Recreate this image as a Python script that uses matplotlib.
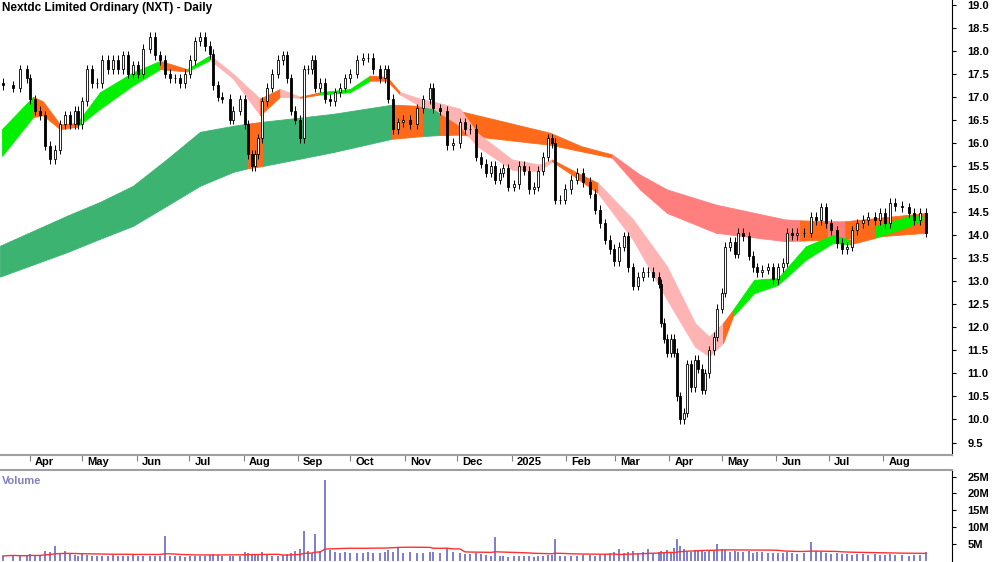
import numpy as np
import pandas as pd
import matplotlib
matplotlib.use("Agg")
import matplotlib.pyplot as plt
import matplotlib.dates as mdates

plt.rcParams['font.family'] = ['Liberation Sans', 'DejaVu Sans']

# sample positions (px from left), converted to dates below
pos = [3,13,20,27,30,35,40,45,50,55,
       60,65,70,75,78,82,87,92,97,102,
       108,113,118,123,128,133,138,143,150,155,
       160,165,170,175,180,185,190,195,200,205,
       210,213,218,222,230,233,240,245,248,252,
       255,258,262,267,272,278,283,287,291,295,
       300,304,308,312,315,320,325,330,335,340,
       345,350,357,363,368,373,380,385,388,393,
       398,403,410,417,423,430,433,440,447,453,
       460,465,470,476,481,486,491,495,500,503,
       508,514,519,524,529,534,538,543,548,552,
       555,560,565,571,577,583,590,595,600,605,
       610,614,619,624,628,633,638,643,648,653,
       659,661,664,667,671,674,677,680,684,687,
       691,695,698,702,705,709,714,717,722,725,
       730,735,738,743,749,753,757,762,768,773,
       778,783,787,792,797,804,811,816,821,826,
       831,837,842,847,852,857,863,868,875,880,
       885,890,895,902,909,914,920,926]
close = [17.25,17.2,17.6,17.4,16.95,16.7,16.6,15.94,15.65,15.85,
         16.4,16.6,16.4,16.7,16.4,16.9,17.6,17.3,17.3,17.8,
         17.6,17.8,17.6,17.9,17.5,17.68,17.5,18.04,18.3,17.9,
         17.8,17.5,17.4,17.4,17.3,17.5,17.8,18.2,18.3,18.1,
         17.93,17.25,17.0,16.96,16.5,16.7,16.95,16.4,15.75,15.5,
         15.75,16.1,16.9,17.2,17.5,17.8,17.9,17.4,16.7,16.5,
         16.1,17.6,17.6,17.8,17.2,17.3,16.96,16.9,17.1,17.2,
         17.4,17.5,17.8,17.85,17.85,17.6,17.4,17.6,16.96,16.3,
         16.45,16.5,16.4,16.75,16.95,17.2,16.75,16.7,15.95,16.0,
         16.45,16.3,16.3,15.7,15.55,15.35,15.5,15.2,15.35,15.45,
         15.05,15.1,15.5,15.4,15.0,15.05,15.4,15.7,16.1,16.0,
         14.77,14.77,15.0,15.2,15.35,15.15,14.9,14.55,14.26,13.9,
         13.7,13.43,13.75,13.97,13.3,12.9,13.1,13.2,13.2,13.1,
         12.95,12.1,11.75,11.45,11.75,11.45,10.5,10.0,10.15,11.2,
         10.7,11.3,11.1,10.65,11.0,11.5,11.8,12.4,12.75,13.75,
         13.85,13.6,14.05,13.97,13.55,13.3,13.2,13.25,13.3,13.05,
         13.3,13.4,14.05,14.0,14.05,14.05,14.4,14.33,14.6,14.26,
         14.1,13.83,13.7,13.75,14.1,14.26,14.33,14.4,14.33,14.48,
         14.26,14.7,14.63,14.6,14.48,14.33,14.48,14.05]
volume = [1.5,1.8,1.4,1.6,2.0,1.5,1.7,3.0,2.6,4.5,
          2.5,3.0,2.2,1.8,1.6,2.0,1.7,1.5,1.6,1.4,
          1.5,1.7,1.6,1.4,1.5,1.8,1.6,1.5,1.4,1.6,
          1.5,7.5,1.6,1.4,1.5,1.3,1.6,1.5,1.4,1.6,
          1.8,2.0,1.7,1.5,1.6,1.4,1.5,2.8,2.4,2.0,
          1.8,2.2,2.6,1.7,1.6,1.5,1.8,2.0,2.4,3.0,
          3.5,9.0,3.0,2.5,8.0,3.0,24.0,3.2,2.8,2.5,
          2.6,2.4,2.5,2.3,2.7,2.5,2.4,2.6,3.2,2.8,
          4.0,2.5,2.6,2.3,2.5,2.8,2.6,2.4,3.8,2.7,
          2.5,2.2,2.0,2.4,2.0,1.8,1.6,7.0,1.5,1.4,
          1.3,1.4,1.6,1.5,1.4,1.3,1.6,1.5,1.7,1.8,
          6.5,1.6,1.5,1.4,1.6,1.8,1.7,1.5,1.8,2.0,
          2.4,2.8,3.5,2.5,2.6,3.0,2.4,2.8,3.6,2.5,
          2.6,3.0,2.8,3.2,2.7,3.8,6.5,4.5,3.5,3.0,
          2.8,3.2,2.9,3.0,2.7,3.1,3.0,5.0,3.5,3.2,
          2.8,3.0,2.7,2.6,2.9,2.5,2.8,2.6,2.4,2.3,
          2.5,2.4,2.6,2.3,2.2,2.5,5.5,3.0,2.6,2.4,
          2.2,2.3,2.0,2.1,1.9,2.2,2.0,1.8,2.1,1.9,
          1.8,2.0,1.7,1.9,1.6,1.8,1.7,2.8]

# short-term MMA ribbon: position, top, bottom, colour of following segment
s_pos = [2,33,43,60,77,100,133,160,187,210,233,260,280,300,320,350,370,387,400,420,
         433,460,477,512,539,552,574,598,633,667,695,709,723,733,754,778,806,833,850,875,909,923]
s_top = [16.3,17.0,16.9,16.4,16.43,17.1,17.53,17.78,17.6,17.9,17.5,16.96,17.17,17.0,17.1,17.17,17.46,17.43,17.1,16.96,
         16.9,16.74,16.22,15.64,15.53,15.64,15.39,15.13,14.34,13.32,12.09,11.8,12.09,12.38,13.03,13.07,13.76,14.0,13.9,14.19,14.41,14.41]
s_bot = [15.72,16.56,16.6,16.3,16.35,16.74,17.25,17.6,17.55,17.8,17.4,16.6,17.0,16.98,17.05,17.1,17.35,17.35,17.05,16.8,
         16.75,16.37,15.93,15.42,15.39,15.6,15.28,14.91,13.9,12.6,11.58,11.37,11.66,12.24,12.74,12.92,13.47,13.83,13.8,13.94,14.19,14.34]
s_col = "gooogggogppopoggoopppppppooppppp" "oggggg" "oggg"

# long-term MMA ribbon
l_pos = [0,67,100,133,167,200,233,248,263,333,392,423,440,460,550,581,612,640,667,716,785,800,828,845,926]
l_top = [13.77,14.42,14.72,15.07,15.65,16.24,16.37,16.42,16.46,16.63,16.83,16.8,16.75,16.69,16.22,15.93,15.75,15.31,14.99,14.66,14.34,14.32,14.3,14.3,14.48]
l_bot = [13.1,13.63,13.92,14.2,14.64,15.07,15.37,15.45,15.5,15.8,16.09,16.15,16.17,16.18,15.96,15.82,15.68,14.99,14.48,14.05,13.87,13.88,13.9,13.92,14.05]
l_col = "GGGGGGGOGGOGOOOORRRRROROR"

months = ["Apr","May","Jun","Jul","Aug","Sep","Oct","Nov","Dec","2025","Feb","Mar","Apr","May","Jun","Jul","Aug"]
month_dates = pd.date_range("2024-04-01", "2025-08-01", freq="MS")

colors = {"g": "#00f000", "o": "#ff6a1a", "p": "#ffb3b3", "G": "#3cb371", "O": "#ff6a1a", "R": "#ff7f7f"}

# chart px -> date
start = mdates.date2num(pd.Timestamp("2024-03-15"))
k = 1.752
def px2d(p):
    return start + np.asarray(p, dtype=float) / k

fig = plt.figure(figsize=(10, 5.62), dpi=100)
ax = fig.add_axes([0, 0.1904, 0.952, 0.8096])
axv = fig.add_axes([0, 0, 0.952, 0.164])

def ribbon(a, p, top, bot, col):
    x = px2d(p)
    for i in range(len(x) - 1):
        a.fill_between(x[i:i+2], bot[i:i+2], top[i:i+2], facecolor=colors[col[i]],
                       edgecolor=colors[col[i]], lw=0.6)

ribbon(ax, l_pos, l_top, l_bot, l_col)
ribbon(ax, s_pos, s_top, s_bot, s_col)

x = px2d(pos)
c = np.array(close)
o = np.concatenate([[c[0] + 0.05], c[:-1]])
hi = np.maximum(o, c) + 0.1
lo = np.minimum(o, c) - 0.1
ax.vlines(x, lo, hi, color="black", lw=0.7, zorder=3)
up = c >= o
ax.bar(x[up], (c - o)[up], bottom=o[up], width=1.6, color="white", edgecolor="black", lw=0.6, zorder=4)
ax.bar(x[~up], (o - c)[~up], bottom=c[~up], width=1.6, color="black", edgecolor="black", lw=0.6, zorder=4)

xl = (start, start + 952 / k)
ax.set_xlim(xl)
ax.set_ylim(9.23, 19.1)
ax.yaxis.tick_right()
ax.set_yticks(np.arange(9.5, 19.01, 0.5))
ax.set_yticklabels([f"{v:.1f}" for v in np.arange(9.5, 19.01, 0.5)], fontsize=8, fontweight="bold")
ax.tick_params(axis="y", length=3, pad=8)
ax.set_xticks(mdates.date2num(month_dates))
ax.set_xticklabels([])
ax.tick_params(axis="x", length=4, direction="out", color="#808080")
for sp in ["top", "left"]:
    ax.spines[sp].set_visible(False)
ax.spines["bottom"].set_color("#a0a0a0")
ax.spines["bottom"].set_linewidth(1.5)
for d, m in zip(mdates.date2num(month_dates), months):
    ax.text(d + 3, -0.005, m, transform=ax.get_xaxis_transform(), ha="left", va="top",
            fontsize=8, fontweight="bold")
ax.text(0.002, 0.995, "Nextdc Limited Ordinary (NXT) - Daily", transform=ax.transAxes,
        ha="left", va="top", fontsize=8.5, fontweight="bold")

v = np.array(volume)
axv.bar(x, v, width=1.2, color="#8080d0", lw=0)
avg = pd.Series(v).rolling(25, min_periods=1).mean()
axv.plot(x, avg, color="#ff3030", lw=1.0)
axv.set_xlim(xl)
axv.set_ylim(-0.3, 27)
axv.yaxis.tick_right()
axv.set_yticks([5, 10, 15, 20, 25])
axv.set_yticklabels(["5M", "10M", "15M", "20M", "25M"], fontsize=8, fontweight="bold")
axv.tick_params(axis="y", length=3, pad=8)
axv.set_xticks([])
for sp in ["left", "bottom"]:
    axv.spines[sp].set_visible(False)
axv.spines["top"].set_color("#a0a0a0")
axv.spines["top"].set_linewidth(1.5)
axv.text(0.002, 0.93, "Volume", transform=axv.transAxes, ha="left", va="top",
         fontsize=8, fontweight="bold", color="#8080c0")

fig.savefig("out.png", dpi=100)
